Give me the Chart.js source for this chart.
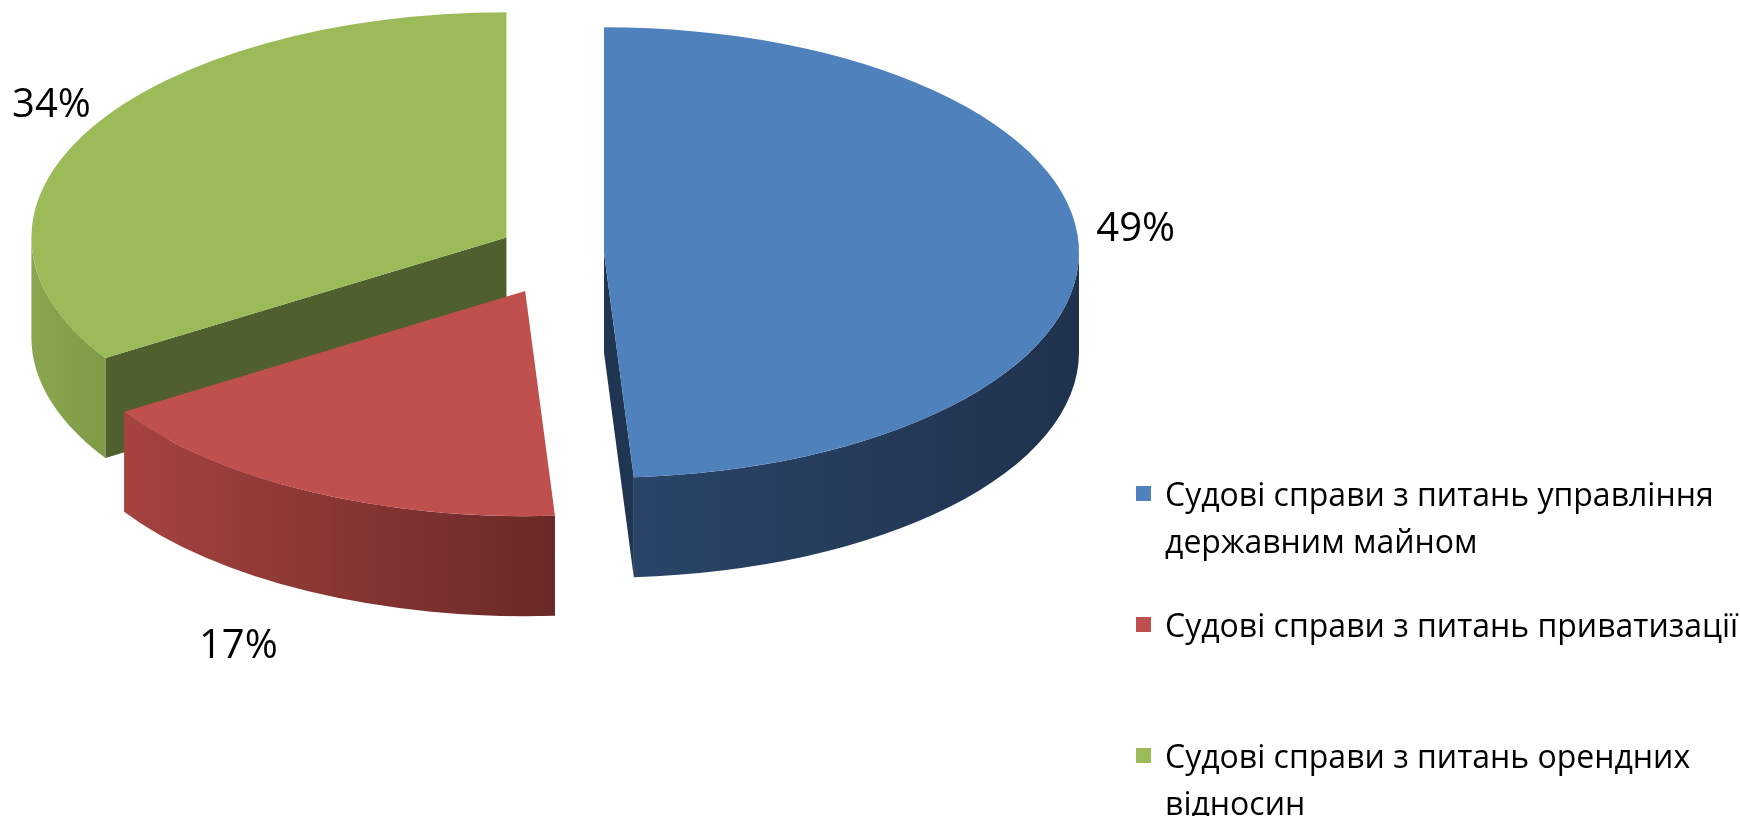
<!DOCTYPE html>
<html>
<head>
<meta charset="utf-8">
<script src="https://cdn.jsdelivr.net/npm/chart.js@4"></script>
<style>
  html, body { margin: 0; padding: 0; background: #fff; overflow: hidden; }
  #wrap { position: relative; width: 1740px; height: 816px; }
  #legend { position: absolute; left: 1136px; top: 0; font-family: "Open Sans", sans-serif; font-size: 32px; color: #000; }
  .item { position: absolute; left: 0; width: 625px; display: flex; align-items: flex-start; line-height: 47px; }
  .box { width: 15px; height: 15px; margin-top: 16px; margin-right: 14px; flex: none; }
</style>
</head>
<body>
<div id="wrap">
  <canvas id="myChart" width="1740" height="816"></canvas>
  <div id="legend"></div>
</div>
<script>
// data
const categories = [
    'Судові справи з питань управління державним майном',
    'Судові справи з питань приватизації',
    'Судові справи з питань орендних відносин'
];
const shares = [49, 17, 34];

// look
const topColors = ['#4F81BD', '#C0504D', '#9BBB59'];
const faceColors = ['#203552', '#7A2F2D', '#4F5F2D'];
const wallColors = [['#2A4568', '#1F324D'], ['#A5433F', '#6A2928'], ['#8AA74F', '#7E9A45']];
const explode = [38, 90, 68];
const labelDist = [1.12, 1.33, 1.093];
const labelLift = [-15, 0, -13];
const tilt = 0.474;
const depth = 100;
const drawOrder = [2, 0, 1];

const total = shares.reduce((a, b) => a + b, 0);

function arcProps(arc) {
    return arc.getProps(['x', 'y', 'startAngle', 'endAngle', 'outerRadius'], true);
}

function drawSides(ctx, arc, i, D) {
    const {x, y, startAngle, endAngle, outerRadius: r} = arcProps(arc);
    // cut faces that look towards the viewer
    const faces = [];
    if (Math.cos(startAngle) < -1e-6) faces.push(startAngle);
    if (Math.cos(endAngle) > 1e-6) faces.push(endAngle);
    ctx.fillStyle = faceColors[i];
    for (const a of faces) {
        ctx.beginPath();
        ctx.moveTo(x, y);
        ctx.lineTo(x + r * Math.cos(a), y + r * Math.sin(a));
        ctx.lineTo(x + r * Math.cos(a), y + D + r * Math.sin(a));
        ctx.lineTo(x, y + D);
        ctx.closePath();
        ctx.fill();
    }
    // rim (front half only)
    for (let n = -1; n <= 1; n++) {
        const lo = Math.max(startAngle, 2 * Math.PI * n);
        const hi = Math.min(endAngle, 2 * Math.PI * n + Math.PI);
        if (hi <= lo) continue;
        const grad = ctx.createLinearGradient(x + r * Math.cos(hi), 0, x + r * Math.cos(lo), 0);
        grad.addColorStop(0, wallColors[i][0]);
        grad.addColorStop(1, wallColors[i][1]);
        ctx.fillStyle = grad;
        ctx.beginPath();
        ctx.arc(x, y, r, lo, hi);
        ctx.arc(x, y + D, r, hi, lo, true);
        ctx.closePath();
        ctx.fill();
    }
}

const pie3d = {
    id: 'pie3d',
    beforeDatasetsDraw(chart) {
        const ctx = chart.ctx;
        const arcs = chart.getDatasetMeta(0).data;
        for (const i of drawOrder) {
            const arc = arcs[i];
            const {y, startAngle, endAngle} = arcProps(arc);
            const mid = (startAngle + endAngle) / 2;
            ctx.save();
            ctx.translate(0, y);
            ctx.scale(1, tilt);
            ctx.translate(0, -y);
            ctx.translate(Math.cos(mid) * explode[i], Math.sin(mid) * explode[i]);
            drawSides(ctx, arc, i, depth / tilt);
            arc.draw(ctx);
            ctx.restore();
        }
        return false;
    },
    afterDraw(chart) {
        const ctx = chart.ctx;
        const arcs = chart.getDatasetMeta(0).data;
        ctx.save();
        ctx.font = '40px "Open Sans", sans-serif';
        ctx.fillStyle = '#000';
        ctx.textAlign = 'center';
        ctx.textBaseline = 'middle';
        arcs.forEach((arc, i) => {
            const {x, y, startAngle, endAngle, outerRadius: r} = arcProps(arc);
            const mid = (startAngle + endAngle) / 2;
            const R = r * labelDist[i];
            const lx = x + Math.cos(mid) * (explode[i] + R);
            let ly = y + tilt * Math.sin(mid) * (explode[i] + R) + labelLift[i];
            if (Math.sin(mid) > 0) ly += depth * Math.sin(mid);
            ctx.fillText(Math.round(shares[i] / total * 100) + '%', lx, ly);
        });
        ctx.restore();
    }
};

const ctx = document.getElementById('myChart');
const myChart = new Chart(ctx, {
    type: 'pie',
    data: {
        labels: categories,
        datasets: [{
            data: shares,
            backgroundColor: topColors,
            borderWidth: 0,
            offset: 0,
            radius: 475,
            clip: false
        }]
    },
    options: {
        responsive: false,
        animation: false,
        events: [],
        layout: {
            padding: { left: 0, top: 0, right: 608, bottom: 310 }
        },
        plugins: {
            legend: { display: false },
            tooltip: { enabled: false }
        }
    },
    plugins: [pie3d]
});

// legend
const legend = document.getElementById('legend');
categories.forEach((name, i) => {
    const item = document.createElement('div');
    item.className = 'item';
    item.style.top = (470 + i * 131) + 'px';
    const box = document.createElement('span');
    box.className = 'box';
    box.style.background = topColors[i];
    const txt = document.createElement('span');
    txt.textContent = name;
    item.appendChild(box);
    item.appendChild(txt);
    legend.appendChild(item);
});
</script>
</body>
</html>
